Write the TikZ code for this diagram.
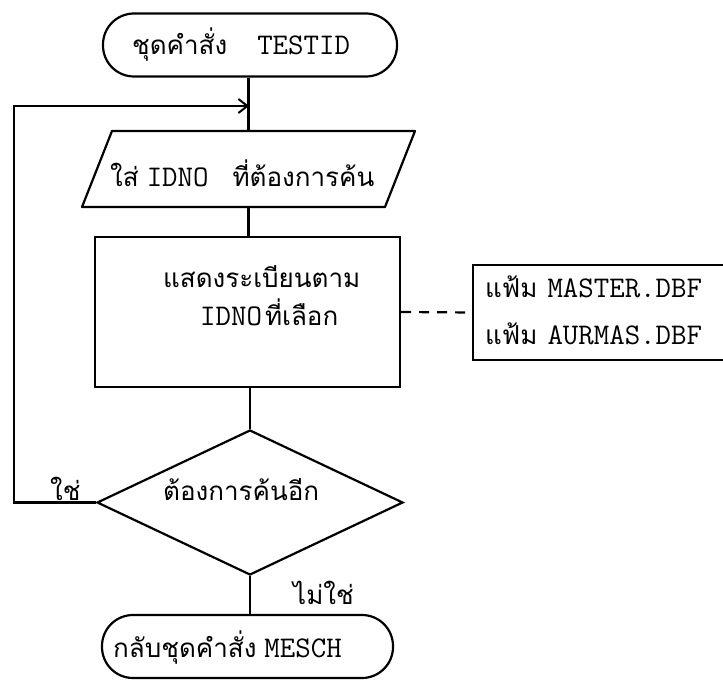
\documentclass[tikz,border=0pt]{standalone}
\usepackage{fontspec}
\usetikzlibrary{shapes.geometric,arrows.meta}
\newfontfamily\thaifont[Script=Thai]{Loma}
\newcommand\myfs{\fontsize{26pt}{30pt}\selectfont}
\newcommand\tht[1]{{\thaifont #1}}
\newcommand\mot[1]{{\ttfamily\fontsize{30pt}{34pt}\selectfont #1}}
\tikzset{
  line/.style={line width=2.2pt},
  box/.style={draw, line width=2.2pt, inner sep=0pt},
  termbox/.style={box, rectangle, rounded corners=31pt, minimum height=63pt},
  txt/.style={font=\myfs, inner sep=0pt, anchor=base west},
}
\begin{document}
\begin{tikzpicture}[x=1pt,y=-1pt]
\clip (0,0) rectangle (723,682);
\fill[white] (0,0) rectangle (723,682);
% shapes
\node[termbox, minimum width=294pt] (start) at (250,45) {};
\node[txt] (starttxt) at (132,55) {\tht{ชุดคำสั่ง}\hspace{30pt}\mot{TESTID}};
\node[inner sep=0pt, minimum width=303pt, minimum height=76pt] (io) at (248.5,169) {};
\coordinate (io-tl) at (112,131);
\coordinate (io-tr) at (415,131);
\coordinate (io-br) at (385,207);
\coordinate (io-bl) at (82,207);
\draw[line, line join=round] (io-tl) -- (io-tr) -- (io-br) -- (io-bl) -- cycle;
\node[txt] (iotxt) at (110,186) {\tht{ใส่}\hspace{8pt}\mot{IDNO}\hspace{24pt}\tht{ที่ต้องการค้น}};
\node[box, rectangle, minimum width=305pt, minimum height=150pt] (proc) at (247.5,312) {};
\node[txt] (proctxt1) at (163,287) {\tht{แสดงระเบียนตาม}};
\node[txt] (proctxt2) at (200,325) {\mot{IDNO}\hspace{3pt}\tht{ที่เลือก}};
\node[box, rectangle, minimum width=287pt, minimum height=95pt] (files) at (616.5,312.5) {};
\node[txt] (f1) at (485,297) {\tht{แฟ้ม}\hspace{10pt}\mot{MASTER.DBF}};
\node[txt] (f2) at (485,344) {\tht{แฟ้ม}\hspace{10pt}\mot{AURMAS.DBF}};
\node[box, diamond, minimum width=306pt, minimum height=145pt] (dec) at (250,502.5) {};
\node[txt] (dectxt) at (163,500) {\tht{ต้องการค้นอีก}};
\node[txt] (yes) at (50,500) {\tht{ใช่}};
\node[txt] (no) at (293,604) {\tht{ไม่ใช่}};
\node[termbox, minimum width=291pt] (stop) at (247.5,646.5) {};
\node[txt] (stoptxt) at (113,657) {\tht{กลับชุดคำสั่ง}\hspace{8pt}\mot{MESCH}};
% connectors
\coordinate (j) at (249,106);
\coordinate (lp1) at (14,502.5);
\coordinate (lp2) at (14,106);
\draw[line] (io.north |- start.south) -- (io.north);
\draw[line] (io.south) -- (io.south |- proc.north);
\draw[line] (dec.north |- proc.south) -- (dec.north);
\draw[line] (dec.south) -- (dec.south |- stop.north);
\draw[line, dash pattern=on 10pt off 8pt] (proc.east) -- (files.west);
\draw[line, -{Straight Barb[length=9pt,width=14pt,line width=2pt]}] (dec.west) -- (lp1) -- (lp2) -- (j);
\end{tikzpicture}
\end{document}
